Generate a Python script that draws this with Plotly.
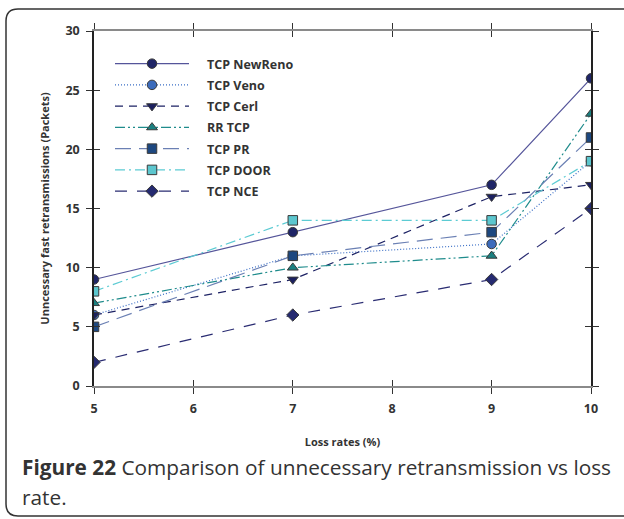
import plotly.graph_objects as go

# Loss rate (%) on the x axis
loss_rates = [5, 7, 9, 10]

# Unnecessary fast retransmissions (packets) per TCP variant
newreno = [9, 13, 17, 26]
veno = [6, 11, 12, 19]
cerl = [6, 9, 16, 17]
rr_tcp = [7, 10, 11, 23]
tcp_pr = [5, 11, 13, 21]
door = [8, 14, 14, 19]
nce = [2, 6, 9, 15]

series = [
    ("TCP NewReno", newreno, "#55559a", "solid", "circle", "#1f2567"),
    ("TCP Veno", veno, "#3b6fc6", "1px,2px", "circle", "#3c6cbc"),
    ("TCP Cerl", cerl, "#1d2264", "8px,6px", "triangle-down", "#1b2060"),
    ("RR TCP", rr_tcp, "#1f8c8c", "10px,3px,2px,3px,2px,3px", "triangle-up", "#1a8080"),
    ("TCP PR", tcp_pr, "#6b80b4", "16px,8px", "square", "#1d4880"),
    ("TCP DOOR", door, "#5ccbd3", "10px,4px,2px,4px", "square", "#5cc6ce"),
    ("TCP NCE", nce, "#2a2c72", "12px,10px", "diamond", "#252a70"),
]

# a little padding between the legend symbol and its label
PAD = "\u00a0\u00a0\u00a0\u00a0"

fig = go.Figure()
for name, vals, lc, dash, sym, mc in series:
    fig.add_trace(go.Scatter(
        x=loss_rates, y=vals, name=PAD + name, legendgroup=name,
        mode="lines+markers",
        line=dict(color=lc, width=1.2, dash=dash),
        marker=dict(symbol=sym, size=9.5, color=mc,
                    line=dict(color="#3a3a3a", width=1)),
    ))

# invisible trace on the overlay axes so the inner ticks are drawn
fig.add_trace(go.Scatter(x=[5], y=[0], xaxis="x2", yaxis="y2",
                         mode="markers", marker=dict(opacity=0),
                         showlegend=False, hoverinfo="skip"))

W, H = 624, 519
L, R, T, B = 94, 33, 31, 133
pw, ph = W - L - R, H - T - B


def px(x):
    return (x - L) / pw


def py(y):
    return (H - B - y) / ph


tick_font = dict(family="Open Sans", size=12.5, color="#333333", weight="bold")

fig.update_layout(
    width=W, height=H,
    margin=dict(l=L, r=R, t=T, b=B),
    paper_bgcolor="white", plot_bgcolor="white",
    showlegend=True,
    legend=dict(
        x=px(110), y=py(49), xanchor="left", yanchor="top",
        bgcolor="rgba(0,0,0,0)", borderwidth=0,
        font=dict(family="Open Sans", size=12.5, color="#333333", weight="bold"),
        itemwidth=74, tracegroupgap=2,
    ),
    xaxis=dict(
        range=[5, 10], tickvals=[5, 6, 7, 8, 9, 10],
        showgrid=False, zeroline=False,
        showline=True, linecolor="#8a8a8a", linewidth=2, mirror="allticks",
        ticks="outside", ticklen=6, tickcolor="#333333", tickwidth=1,
        tickfont=tick_font, ticklabelstandoff=4,
        title=dict(text="<b>Loss rates (%)</b>",
                   font=dict(family="Open Sans", size=11, color="#333333"),
                   standoff=22),
    ),
    yaxis=dict(
        range=[0, 30], tickvals=[0, 5, 10, 15, 20, 25, 30],
        showgrid=False, zeroline=False,
        showline=True, linecolor="#222222", linewidth=1.5, mirror="allticks",
        ticks="outside", ticklen=6, tickcolor="#333333", tickwidth=1,
        tickfont=tick_font, ticklabelstandoff=4,
        title=dict(text="<b>Unncessary fast retransmissions (Packets)</b>",
                   font=dict(family="Open Sans", size=11, color="#333333"),
                   standoff=14),
    ),
    xaxis2=dict(
        overlaying="x", range=[5, 10], tickvals=[5, 6, 7, 8, 9, 10],
        showgrid=False, zeroline=False, showline=False, mirror="allticks",
        ticks="inside", ticklen=6, tickcolor="#333333", tickwidth=1,
        showticklabels=False,
    ),
    yaxis2=dict(
        overlaying="y", range=[0, 30], tickvals=[0, 5, 10, 15, 20, 25, 30],
        showgrid=False, zeroline=False, showline=False, mirror="allticks",
        ticks="inside", ticklen=6, tickcolor="#333333", tickwidth=1,
        showticklabels=False,
    ),
)

# rounded frame around the figure and caption
x0, x1 = px(6), px(630)
y0, y1 = py(516), py(9)
rx, ry = 12 / pw, 12 / ph
frame = (f"M {x1},{y1} L {x0 + rx},{y1} Q {x0},{y1} {x0},{y1 - ry} "
         f"L {x0},{y0 + ry} Q {x0},{y0} {x0 + rx},{y0} L {x1},{y0}")
fig.add_shape(type="path", path=frame, xref="paper", yref="paper",
              line=dict(color="#333333", width=1.5), layer="above")

caption_font = dict(family="Open Sans", size=20.8, color="#333333")
fig.add_annotation(
    text="<b>Figure 22</b> Comparison of unnecessary retransmission vs loss",
    x=px(20), y=py(467), xref="paper", yref="paper",
    xanchor="left", yanchor="middle", showarrow=False, font=caption_font)
fig.add_annotation(
    text="rate.", x=px(20), y=py(497), xref="paper", yref="paper",
    xanchor="left", yanchor="middle", showarrow=False, font=caption_font)

fig.write_html("out.html")
